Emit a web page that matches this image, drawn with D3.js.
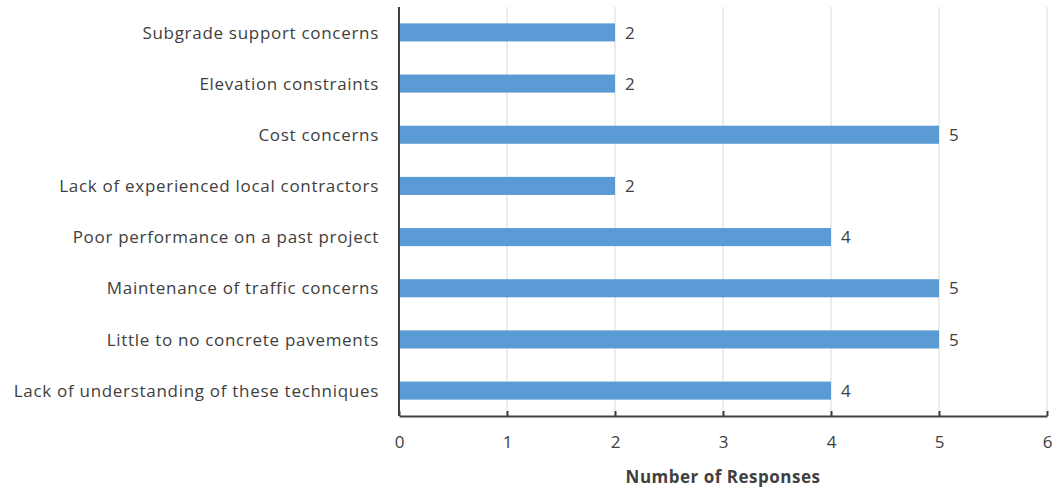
<!DOCTYPE html>
<html>
<head>
<meta charset="utf-8">
<script src="https://cdn.jsdelivr.net/npm/d3@7"></script>
<style>
  body { margin: 0; background: #fff; }
  text { font-family: "Open Sans", sans-serif; fill: #404040; }
</style>
</head>
<body>
<div id="chart"></div>
<script>
// data, top to bottom as drawn
var categories = [
  "Subgrade support concerns",
  "Elevation constraints",
  "Cost concerns",
  "Lack of experienced local contractors",
  "Poor performance on a past project",
  "Maintenance of traffic concerns",
  "Little to no concrete pavements",
  "Lack of understanding of these techniques"
];
var responses = [2, 2, 5, 2, 4, 5, 5, 4];
var xTicks = [0, 1, 2, 3, 4, 5, 6];
var xTitle = "Number of Responses";

var width = 1056, height = 488;
var margin = { top: 7, right: 9, bottom: 72, left: 399 };
var w = width - margin.left - margin.right,
    h = height - margin.top - margin.bottom;

var svg = d3.select('#chart').append('svg')
    .attr('width', width)
    .attr('height', height);

var g = svg.append('g')
    .attr('transform', 'translate(' + margin.left + ',' + margin.top + ')');

var x = d3.scaleLinear().domain([0, 6]).range([0, w]);
var y = d3.scaleBand().domain(categories).range([0, h]).paddingInner(0.647).paddingOuter(0.32);

// gridlines
g.selectAll('.grid')
    .data(xTicks.slice(1))
  .enter().append('line')
    .attr('x1', function (d) { return x(d); })
    .attr('x2', function (d) { return x(d); })
    .attr('y1', 0)
    .attr('y2', h)
    .attr('stroke', '#d9d9d9')
    .attr('stroke-width', 1);

// bars
g.selectAll('.bar')
    .data(responses)
  .enter().append('rect')
    .attr('x', 0)
    .attr('y', function (d, i) { return y(categories[i]); })
    .attr('width', function (d) { return x(d); })
    .attr('height', y.bandwidth())
    .attr('fill', '#5b9bd5');

// value labels
g.selectAll('.val')
    .data(responses)
  .enter().append('text')
    .attr('x', function (d) { return x(d) + 10; })
    .attr('y', function (d, i) { return y(categories[i]) + y.bandwidth() / 2; })
    .attr('dy', '0.36em')
    .style('font-size', '17px')
    .text(function (d) { return d; });

// x axis, ticks pointing inward
var xAxis = g.append('g')
    .attr('transform', 'translate(0,' + h + ')')
    .call(d3.axisBottom(x).tickValues(xTicks).tickFormat(d3.format('d'))
      .tickSizeInner(-5).tickSizeOuter(0).tickPadding(20));
xAxis.select('.domain').attr('stroke', '#404040').attr('stroke-width', 2);
xAxis.selectAll('.tick line').attr('stroke', '#404040').attr('stroke-width', 2);
xAxis.selectAll('.tick text')
    .style('font-size', '17px')
    .style('font-family', '"Open Sans", sans-serif')
    .attr('fill', '#404040');

// y axis line and labels
g.append('line')
    .attr('x1', 0).attr('x2', 0)
    .attr('y1', 0).attr('y2', h)
    .attr('stroke', '#404040')
    .attr('stroke-width', 2);

g.selectAll('.cat')
    .data(categories)
  .enter().append('text')
    .attr('x', -20)
    .attr('y', function (d) { return y(d) + y.bandwidth() / 2; })
    .attr('dy', '0.36em')
    .attr('text-anchor', 'end')
    .style('font-size', '17px')
    .style('letter-spacing', '0.7px')
    .text(function (d) { return d; });

// axis title
svg.append('text')
    .attr('x', margin.left + w / 2)
    .attr('y', 483)
    .attr('text-anchor', 'middle')
    .style('font-size', '17px')
    .style('letter-spacing', '0.5px')
    .style('font-weight', 'bold')
    .text(xTitle);
</script>
</body>
</html>
